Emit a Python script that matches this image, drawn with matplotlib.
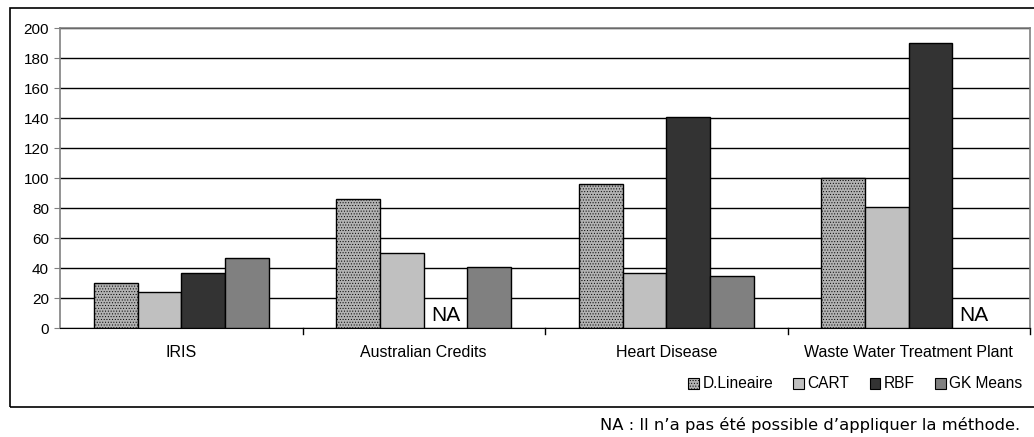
import numpy as np
import matplotlib.pyplot as plt
from matplotlib.patches import Rectangle, Patch

plt.rcParams['font.family'] = ['Liberation Sans', 'DejaVu Sans']
plt.rcParams['hatch.linewidth'] = 0.4

categories = ["IRIS", "Australian Credits", "Heart Disease", "Waste Water Treatment Plant"]
methods = ["D.Lineaire", "CART", "RBF", "GK Means"]
d_lineaire = [30, 86, 96, 100]
cart = [24, 50, 37, 81]
rbf = [37, None, 141, 190]
gk_means = [47, 41, 35, None]
yticks = [0, 20, 40, 60, 80, 100, 120, 140, 160, 180, 200]
footnote = "NA : Il n\u2019a pas été possible d\u2019appliquer la méthode."

series = [d_lineaire, cart, rbf, gk_means]
colors = ["#b2b2b2", "#c0c0c0", "#333333", "#808080"]
hatches = ["......", None, None, None]

fig = plt.figure(figsize=(10.34, 4.37), dpi=100)
# outer chart frame
fig.patches.append(Rectangle((10 / 1034, 1 - 407 / 437), 1.0, 399 / 437,
                             transform=fig.transFigure, fill=False, edgecolor="black", lw=1.2))
ax = fig.add_axes([60 / 1034, 1 - 328 / 437, 970 / 1034, 300 / 437])

x = np.arange(len(categories))
w = 0.18
for i, (vals, c, h) in enumerate(zip(series, colors, hatches)):
    pos = x + (i - 1.5) * w
    for p, v in zip(pos, vals):
        if v is None:
            ax.text(p, 2, "NA", ha="center", va="bottom", fontsize=15)
            continue
        ax.bar(p, v, w, color=c, edgecolor="black", lw=1, hatch=h, zorder=3)

ax.set_xlim(-0.5, len(categories) - 0.5)
ax.set_ylim(0, 200)
ax.set_yticks(yticks)
ax.tick_params(axis="y", labelsize=11, length=4, color="#808080", pad=4)
ax.yaxis.grid(True, color="black", lw=1, zorder=0)
ax.set_axisbelow(True)
ax.set_xticks(x)
ax.set_xticklabels(categories, fontsize=11.5)
ax.tick_params(axis="x", length=0, pad=12)
for b in np.arange(0.5, len(categories), 1.0):
    ax.plot([b, b], [0, -4], color="black", lw=1, clip_on=False)
for s in ["left", "top", "right"]:
    ax.spines[s].set_color("#808080")
    ax.spines[s].set_linewidth(1.2)
ax.spines["bottom"].set_color("black")

handles = [Patch(facecolor=c, edgecolor="black", hatch=h, lw=0.8) for c, h in zip(colors, hatches)]
fig.legend(handles, methods, loc="center right", bbox_to_anchor=(1028 / 1034, 1 - 384 / 437),
           ncol=4, frameon=False, fontsize=11.2, handlelength=0.7, handleheight=0.7,
           handletextpad=0.2, columnspacing=1.3, borderaxespad=0)

fig.text(1020 / 1034, 1 - 425 / 437, footnote, ha="right", va="center", fontsize=11.8,
         family="DejaVu Sans")

fig.savefig("out.png", dpi=100)
